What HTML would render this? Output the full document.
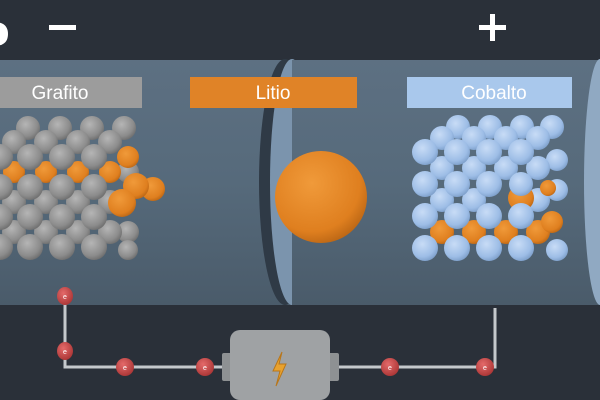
<!DOCTYPE html>
<html><head><meta charset="utf-8"><style>
html,body{margin:0;padding:0;width:600px;height:400px;overflow:hidden;background:#2a3039}
text{font-family:"Liberation Sans",sans-serif}
</style></head><body>
<svg width="600" height="400" viewBox="0 0 600 400" xmlns="http://www.w3.org/2000/svg">
<defs>
<linearGradient id="tube" x1="0" y1="0" x2="0" y2="1">
<stop offset="0" stop-color="#5d7082"/><stop offset="0.5" stop-color="#566a7b"/><stop offset="1" stop-color="#4a5b6a"/></linearGradient>
<radialGradient id="gs" cx="0.4" cy="0.35" r="0.7"><stop offset="0" stop-color="#b5b5b5"/><stop offset="0.7" stop-color="#8c8c8c"/><stop offset="1" stop-color="#6b6b6b"/></radialGradient>
<radialGradient id="os" cx="0.4" cy="0.35" r="0.7"><stop offset="0" stop-color="#f09a3a"/><stop offset="0.75" stop-color="#df7f1f"/><stop offset="1" stop-color="#b86414"/></radialGradient>
<radialGradient id="bs" cx="0.4" cy="0.35" r="0.7"><stop offset="0" stop-color="#c8dcf6"/><stop offset="0.7" stop-color="#9dbde6"/><stop offset="1" stop-color="#7a9cc7"/></radialGradient>
<radialGradient id="rs" cx="0.4" cy="0.35" r="0.7"><stop offset="0" stop-color="#e46a6a"/><stop offset="1" stop-color="#a93434"/></radialGradient>
</defs>
<rect x="0" y="0" width="600" height="400" fill="#2a3039"/>
<rect x="0" y="60" width="600" height="245" fill="url(#tube)"/>
<!-- ring middle -->
<ellipse cx="285" cy="182" rx="26" ry="123" fill="#2f3a46"/>
<ellipse cx="292" cy="182" rx="22" ry="123" fill="#7b94ad"/>
<rect x="292" y="60" width="308" height="245" fill="url(#tube)"/>
<ellipse cx="600" cy="182" rx="16" ry="123" fill="#90a9c2"/>
<!-- top marks -->
<path d="M-6 22 Q8 22 8 34 Q8 46 -6 46 Z" fill="#fff"/>
<rect x="49" y="25" width="27" height="5" fill="#fff"/>
<rect x="479" y="25" width="27" height="5" fill="#fff"/>
<rect x="490" y="14" width="5" height="27" fill="#fff"/>
<!-- labels -->
<rect x="0" y="77" width="142" height="31" fill="#9c9c9c"/>
<text x="60" y="99" font-size="19" fill="#fff" text-anchor="middle">Grafito</text>
<rect x="190" y="77" width="167" height="31" fill="#e08327"/>
<text x="273" y="99" font-size="19" fill="#fff" text-anchor="middle">Litio</text>
<rect x="407" y="77" width="165" height="31" fill="#a9c8ec"/>
<text x="494" y="99" font-size="19" fill="#fff" text-anchor="middle">Cobalto</text>
<!-- graphite -->
<g fill="url(#gs)">
<circle cx="28" cy="128" r="12"/><circle cx="60" cy="128" r="12"/><circle cx="92" cy="128" r="12"/><circle cx="124" cy="128" r="12"/>
<circle cx="14" cy="142" r="12"/><circle cx="46" cy="142" r="12"/><circle cx="78" cy="142" r="12"/><circle cx="110" cy="142" r="12"/>
<circle cx="128" cy="172" r="11"/><circle cx="128" cy="232" r="11"/><circle cx="128" cy="250" r="10"/>
<circle cx="14" cy="202" r="12"/><circle cx="46" cy="202" r="12"/><circle cx="78" cy="202" r="12"/><circle cx="110" cy="202" r="12"/>
<circle cx="14" cy="232" r="12"/><circle cx="46" cy="232" r="12"/><circle cx="78" cy="232" r="12"/><circle cx="110" cy="232" r="12"/>
</g>
<g fill="url(#os)">
<circle cx="14" cy="172" r="11"/><circle cx="46" cy="172" r="11"/><circle cx="78" cy="172" r="11"/><circle cx="110" cy="172" r="11"/>
<circle cx="128" cy="157" r="11"/>
</g>
<g fill="url(#gs)">
<circle cx="0" cy="157" r="13"/><circle cx="30" cy="157" r="13"/><circle cx="62" cy="157" r="13"/><circle cx="94" cy="157" r="13"/>
<circle cx="0" cy="187" r="13"/><circle cx="30" cy="187" r="13"/><circle cx="62" cy="187" r="13"/><circle cx="94" cy="187" r="13"/>
<circle cx="0" cy="217" r="13"/><circle cx="30" cy="217" r="13"/><circle cx="62" cy="217" r="13"/><circle cx="94" cy="217" r="13"/>
<circle cx="0" cy="247" r="13"/><circle cx="30" cy="247" r="13"/><circle cx="62" cy="247" r="13"/><circle cx="94" cy="247" r="13"/>
</g>
<g fill="url(#os)">
<circle cx="153" cy="189" r="12"/><circle cx="136" cy="186" r="13"/><circle cx="122" cy="203" r="14"/>
<circle cx="321" cy="197" r="46"/>
</g>
<!-- cobalt -->
<g fill="url(#bs)">
<circle cx="458" cy="127" r="12"/><circle cx="490" cy="127" r="12"/><circle cx="522" cy="127" r="12"/><circle cx="552" cy="127" r="12"/>
<circle cx="442" cy="138" r="12"/><circle cx="474" cy="138" r="12"/><circle cx="506" cy="138" r="12"/><circle cx="538" cy="138" r="12"/>
<circle cx="557" cy="160" r="11"/><circle cx="557" cy="190" r="11"/><circle cx="557" cy="250" r="11"/>
<circle cx="442" cy="168" r="12"/><circle cx="474" cy="168" r="12"/><circle cx="506" cy="168" r="12"/><circle cx="538" cy="168" r="12"/>
<circle cx="442" cy="200" r="12"/><circle cx="474" cy="200" r="12"/><circle cx="538" cy="200" r="12"/>
</g>
<g fill="url(#os)">
<circle cx="442" cy="232" r="12"/><circle cx="474" cy="232" r="12"/><circle cx="506" cy="232" r="12"/><circle cx="538" cy="232" r="12"/>
<circle cx="521" cy="198" r="13"/><circle cx="552" cy="222" r="11"/><circle cx="548" cy="188" r="8"/>
</g>
<g fill="url(#bs)">
<circle cx="425" cy="152" r="13"/><circle cx="457" cy="152" r="13"/><circle cx="489" cy="152" r="13"/><circle cx="521" cy="152" r="13"/>
<circle cx="425" cy="184" r="13"/><circle cx="457" cy="184" r="13"/><circle cx="489" cy="184" r="13"/><circle cx="521" cy="184" r="12"/>
<circle cx="425" cy="216" r="13"/><circle cx="457" cy="216" r="13"/><circle cx="489" cy="216" r="13"/><circle cx="521" cy="216" r="13"/>
<circle cx="425" cy="248" r="13"/><circle cx="457" cy="248" r="13"/><circle cx="489" cy="248" r="13"/><circle cx="521" cy="248" r="13"/>
</g>
<!-- circuit -->
<path d="M65 296 V367 H232 M330 367 H495 V308" stroke="#c4c8cc" stroke-width="3" fill="none"/>
<rect x="222" y="353" width="12" height="28" rx="2" fill="#8e9193"/>
<rect x="327" y="353" width="12" height="28" rx="2" fill="#8e9193"/>
<rect x="230" y="330" width="100" height="70" rx="10" fill="#9fa2a4"/>
<path d="M282 352 L273 371 L280 371 L276 386 L286 364 L279 364 Z" fill="#e9a22e" stroke="#b8761a" stroke-width="1"/>
<g fill="url(#rs)">
<ellipse cx="65" cy="296" rx="8" ry="9"/><ellipse cx="65" cy="351" rx="8" ry="9"/>
<circle cx="125" cy="367" r="9"/><circle cx="205" cy="367" r="9"/><circle cx="390" cy="367" r="9"/><circle cx="485" cy="367" r="9"/>
</g>
<g fill="#fff" font-size="7" text-anchor="middle">
<text x="65" y="299">e</text><text x="65" y="354">e</text><text x="125" y="370">e</text><text x="205" y="370">e</text><text x="390" y="370">e</text><text x="485" y="370">e</text>
</g>
</svg>
</body></html>
